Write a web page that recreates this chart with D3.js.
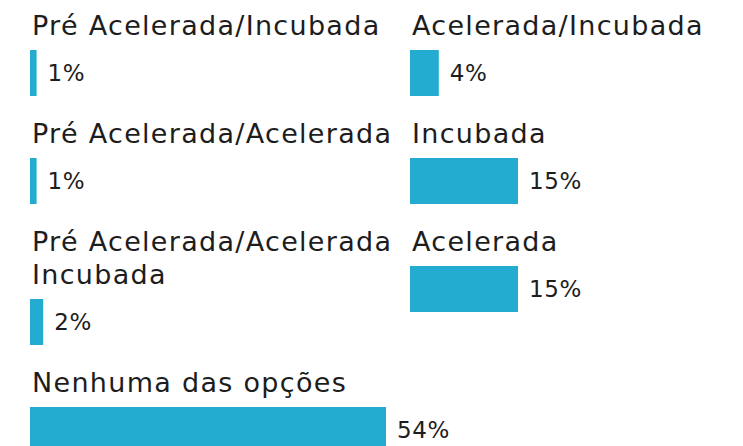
<!DOCTYPE html>
<html>
<head>
<meta charset="utf-8">
<script src="https://cdn.jsdelivr.net/npm/d3@7"></script>
<style>
  html, body { margin: 0; padding: 0; background: #fff; }
  svg { display: block; }
  text { font-family: "DejaVu Sans", sans-serif; fill: #1d1d1d; }
</style>
</head>
<body>
<div id="chart"></div>
<script>
const BAR_COLOR = "#23acd0";

// left column
const leftLabels = [["Pré Acelerada/Incubada"], ["Pré Acelerada/Acelerada"], ["Pré Acelerada/Acelerada", "Incubada"], ["Nenhuma das opções"]];
const leftValues = [1, 1, 2, 54];

// right column
const rightLabels = [["Acelerada/Incubada"], ["Incubada"], ["Acelerada"]];
const rightValues = [4, 15, 15];

const W = 743, H = 446;
const lineH = 33, labelToBar = 15, barH = 46, barToNext = 47;

const svg = d3.select('#chart')
  .append('svg')
  .attr('width', W)
  .attr('height', H);

function drawColumn(labels, values, x0, maxWidth) {
  const x = d3.scaleLinear()
    .domain([0, d3.max(values)])
    .range([0, maxWidth]);

  const g = svg.append('g').attr('transform', `translate(${x0},0)`);

  let y = 35; // first label baseline
  labels.forEach((lines, i) => {
    const item = g.append('g');
    lines.forEach((t, j) => {
      item.append('text')
        .attr('x', 2)
        .attr('y', y + j * lineH)
        .attr('font-size', 27)
        .attr('letter-spacing', 1.3)
        .text(t);
    });
    const barTop = y + (lines.length - 1) * lineH + labelToBar;
    const w = x(values[i]);
    item.append('rect')
      .attr('x', 0)
      .attr('y', barTop)
      .attr('width', w)
      .attr('height', barH)
      .attr('fill', BAR_COLOR);
    item.append('text')
      .attr('x', w + 11)
      .attr('y', barTop + barH / 2)
      .attr('dy', '0.35em')
      .attr('font-size', 23)
      .attr('letter-spacing', 0.6)
      .text(values[i] + '%');
    y = barTop + barH + barToNext;
  });
}

drawColumn(leftLabels, leftValues, 30, 356);
drawColumn(rightLabels, rightValues, 410, 108);
</script>
</body>
</html>
